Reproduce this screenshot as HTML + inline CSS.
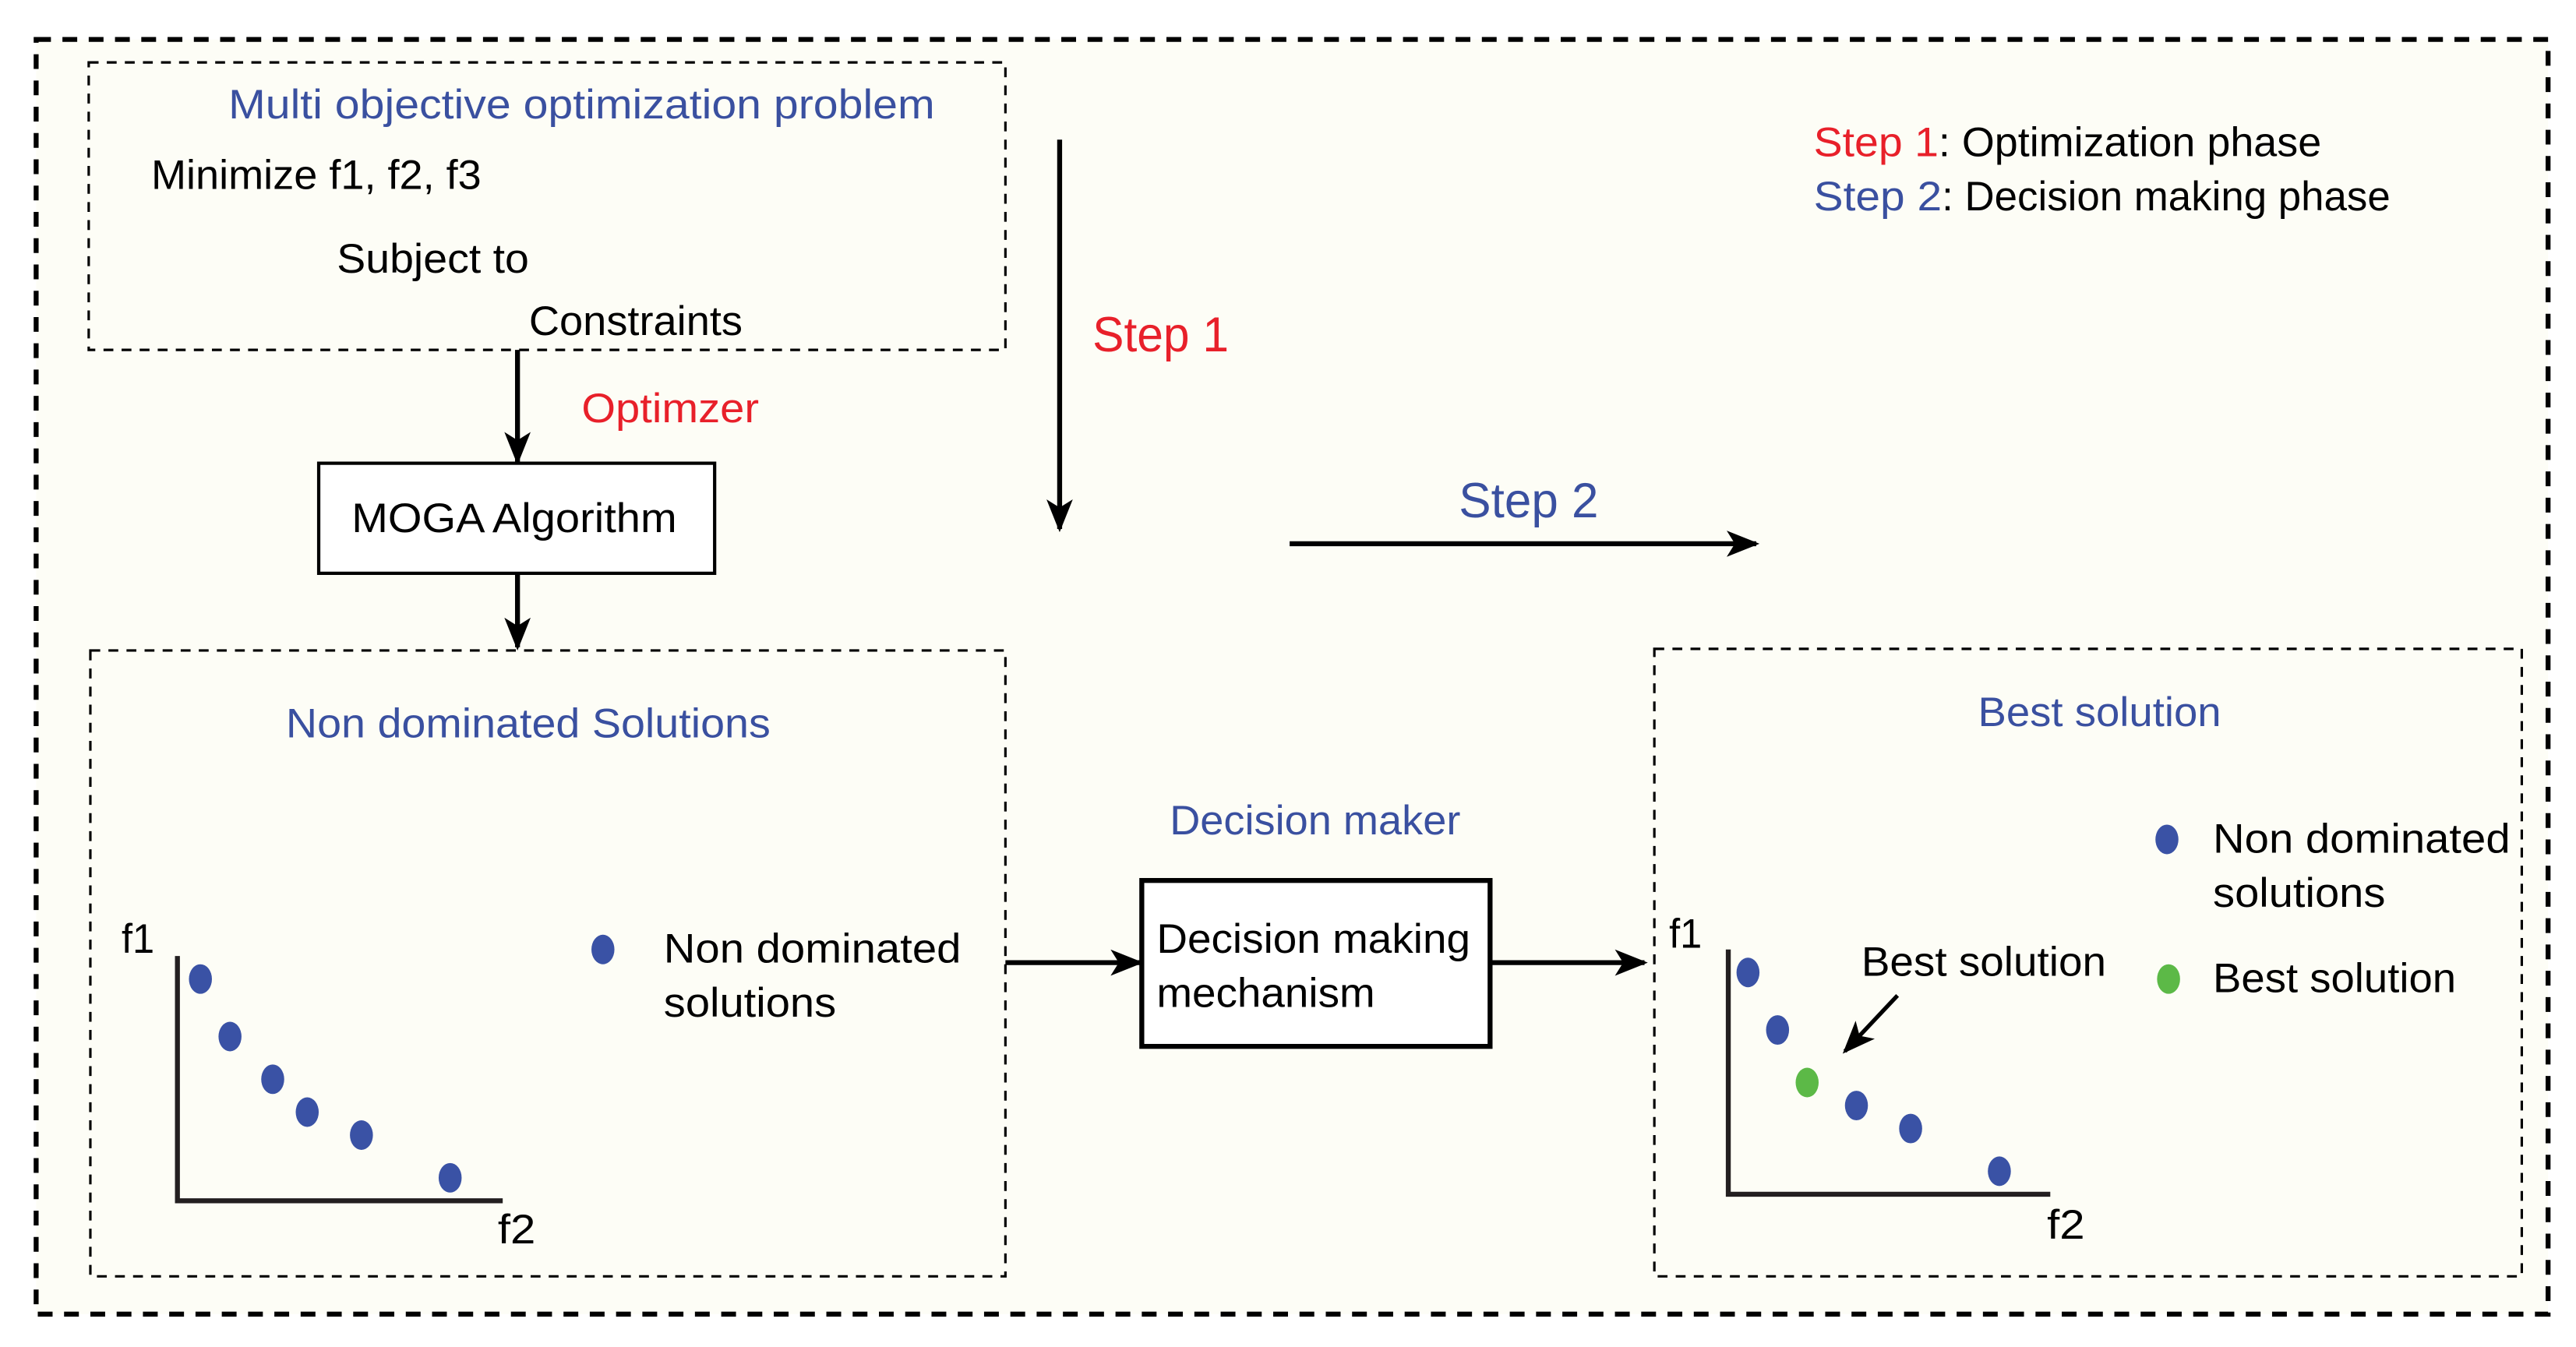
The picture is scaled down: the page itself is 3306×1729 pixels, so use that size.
<!DOCTYPE html>
<html><head><meta charset="utf-8"><style>
html,body{margin:0;padding:0;background:#fff;}
svg{display:block;}
text{font-family:"Liberation Sans",sans-serif;}
</style></head><body>
<svg width="3306" height="1729" viewBox="0 0 1568 820" preserveAspectRatio="none" xmlns="http://www.w3.org/2000/svg">
<defs>
<marker id="ah" viewBox="0 0 20 20" refX="18" refY="10" markerWidth="20" markerHeight="20" markerUnits="userSpaceOnUse" orient="auto">
<path d="M0,2 L20,10 L0,18 L5,10 Z" fill="#000"/>
</marker>
</defs>
<rect x="0" y="0" width="1568" height="820" fill="#fff"/>
<rect x="22" y="24" width="1529" height="776" fill="#fdfdf6" stroke="#000" stroke-width="3" stroke-dasharray="9,7"/>

<!-- Box 1 -->
<rect x="54" y="38" width="558" height="175" fill="none" stroke="#000" stroke-width="1.5" stroke-dasharray="6,5"/>
<g font-size="25">
<text x="139" y="72" fill="#3a50a0" textLength="430" lengthAdjust="spacingAndGlyphs">Multi objective optimization problem</text>
<text x="92" y="115" fill="#000" textLength="201" lengthAdjust="spacingAndGlyphs">Minimize f1, f2, f3</text>
<text x="205" y="166" fill="#000" textLength="117" lengthAdjust="spacingAndGlyphs">Subject to</text>
<text x="322" y="204" fill="#000" textLength="130" lengthAdjust="spacingAndGlyphs">Constraints</text>
<text x="354" y="257" fill="#e8202a" textLength="108" lengthAdjust="spacingAndGlyphs">Optimzer</text>
</g>
<line x1="315" y1="213" x2="315" y2="281" stroke="#000" stroke-width="3" marker-end="url(#ah)"/>
<rect x="194" y="282" width="241" height="67" fill="#fff" stroke="#000" stroke-width="2"/>
<text x="214" y="324" font-size="25" fill="#000" textLength="198" lengthAdjust="spacingAndGlyphs">MOGA Algorithm</text>
<line x1="315" y1="349" x2="315" y2="394" stroke="#000" stroke-width="3" marker-end="url(#ah)"/>

<!-- Step arrows -->
<line x1="645" y1="85" x2="645" y2="322" stroke="#000" stroke-width="3" marker-end="url(#ah)"/>
<text x="665" y="214" font-size="30" fill="#e8202a" textLength="83" lengthAdjust="spacingAndGlyphs">Step 1</text>
<text x="888" y="315" font-size="30" fill="#3a50a0" textLength="85" lengthAdjust="spacingAndGlyphs">Step 2</text>
<line x1="785" y1="331" x2="1069" y2="331" stroke="#000" stroke-width="3" marker-end="url(#ah)"/>

<!-- Legend top right -->
<g font-size="25">
<text x="1104" y="95" fill="#e8202a" textLength="76" lengthAdjust="spacingAndGlyphs">Step 1</text>
<text x="1180" y="95" fill="#000" textLength="233" lengthAdjust="spacingAndGlyphs">: Optimization phase</text>
<text x="1104" y="128" fill="#3a50a0" textLength="78" lengthAdjust="spacingAndGlyphs">Step 2</text>
<text x="1182" y="128" fill="#000" textLength="273" lengthAdjust="spacingAndGlyphs">: Decision making phase</text>
</g>

<!-- Box 2 -->
<rect x="55" y="396" width="557" height="381" fill="none" stroke="#000" stroke-width="1.5" stroke-dasharray="6,5"/>
<g font-size="25">
<text x="174" y="449" fill="#3a50a0" textLength="295" lengthAdjust="spacingAndGlyphs">Non dominated Solutions</text>
<text x="74" y="580" fill="#000" textLength="20" lengthAdjust="spacingAndGlyphs">f1</text>
<text x="303" y="757" fill="#000" textLength="23" lengthAdjust="spacingAndGlyphs">f2</text>
<text x="404" y="586" fill="#000" textLength="181" lengthAdjust="spacingAndGlyphs">Non dominated</text>
<text x="404" y="619" fill="#000" textLength="105" lengthAdjust="spacingAndGlyphs">solutions</text>
</g>
<polyline points="108,582 108,731 306,731" fill="none" stroke="#231f20" stroke-width="3"/>
<g fill="#3a52a5">
<ellipse cx="122" cy="596" rx="7" ry="9"/>
<ellipse cx="140" cy="631" rx="7" ry="9"/>
<ellipse cx="166" cy="657" rx="7" ry="9"/>
<ellipse cx="187" cy="677" rx="7" ry="9"/>
<ellipse cx="220" cy="691" rx="7" ry="9"/>
<ellipse cx="274" cy="717" rx="7" ry="9"/>
<ellipse cx="367" cy="578" rx="7" ry="9"/>
</g>

<!-- Decision maker -->
<line x1="612" y1="586" x2="694" y2="586" stroke="#000" stroke-width="3" marker-end="url(#ah)"/>
<text x="712" y="508" font-size="25" fill="#3a50a0" textLength="177" lengthAdjust="spacingAndGlyphs">Decision maker</text>
<rect x="695" y="536" width="212" height="101" fill="#fff" stroke="#000" stroke-width="3"/>
<text x="704" y="580" font-size="25" fill="#000" textLength="191" lengthAdjust="spacingAndGlyphs">Decision making</text>
<text x="704" y="613" font-size="25" fill="#000" textLength="133" lengthAdjust="spacingAndGlyphs">mechanism</text>
<line x1="907" y1="586" x2="1001" y2="586" stroke="#000" stroke-width="3" marker-end="url(#ah)"/>

<!-- Box 3 -->
<rect x="1007" y="395" width="528" height="382" fill="none" stroke="#000" stroke-width="1.5" stroke-dasharray="6,5"/>
<g font-size="25">
<text x="1204" y="442" fill="#3a50a0" textLength="148" lengthAdjust="spacingAndGlyphs">Best solution</text>
<text x="1016" y="577" fill="#000" textLength="20" lengthAdjust="spacingAndGlyphs">f1</text>
<text x="1246" y="754" fill="#000" textLength="23" lengthAdjust="spacingAndGlyphs">f2</text>
<text x="1133" y="594" fill="#000" textLength="149" lengthAdjust="spacingAndGlyphs">Best solution</text>
<text x="1347" y="519" fill="#000" textLength="181" lengthAdjust="spacingAndGlyphs">Non dominated</text>
<text x="1347" y="552" fill="#000" textLength="105" lengthAdjust="spacingAndGlyphs">solutions</text>
<text x="1347" y="604" fill="#000" textLength="148" lengthAdjust="spacingAndGlyphs">Best solution</text>
</g>
<polyline points="1052,578 1052,727 1248,727" fill="none" stroke="#231f20" stroke-width="3"/>
<g fill="#3a52a5">
<ellipse cx="1064" cy="592" rx="7" ry="9"/>
<ellipse cx="1082" cy="627" rx="7" ry="9"/>
<ellipse cx="1130" cy="673" rx="7" ry="9"/>
<ellipse cx="1163" cy="687" rx="7" ry="9"/>
<ellipse cx="1217" cy="713" rx="7" ry="9"/>
<ellipse cx="1319" cy="511" rx="7" ry="9"/>
</g>
<g fill="#5cb947">
<ellipse cx="1100" cy="659" rx="7" ry="9"/>
<ellipse cx="1320" cy="596" rx="7" ry="9"/>
</g>
<line x1="1155" y1="606" x2="1123" y2="640" stroke="#000" stroke-width="2.5" marker-end="url(#ah)"/>
</svg>
</body></html>
